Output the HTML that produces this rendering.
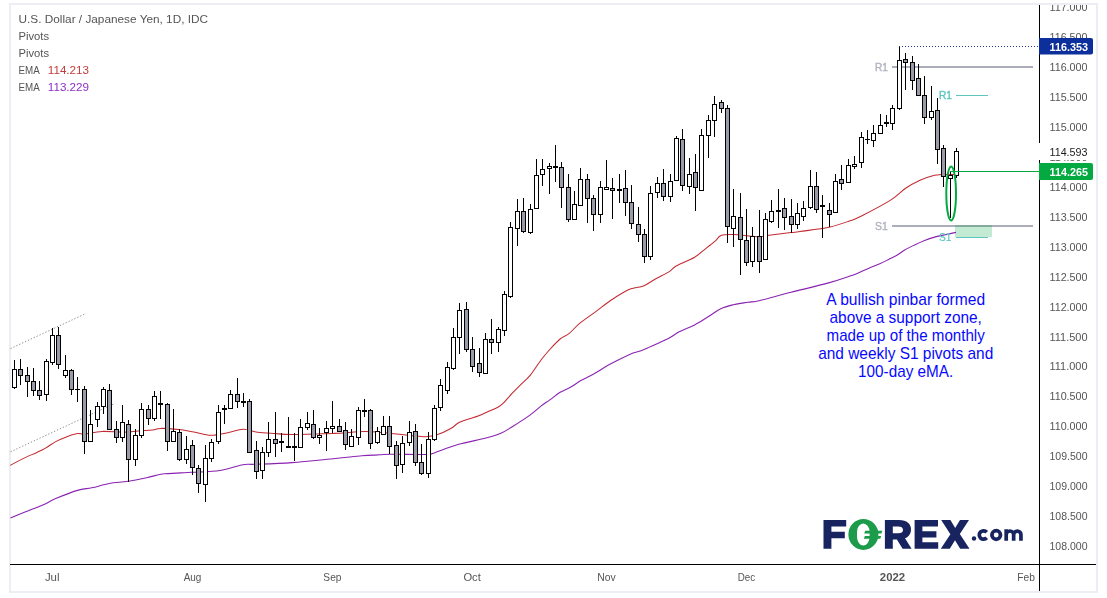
<!DOCTYPE html>
<html><head><meta charset="utf-8"><title>USDJPY</title>
<style>html,body{margin:0;padding:0;background:#fff;}body{position:relative;width:1107px;height:598px;overflow:hidden;font-family:"Liberation Sans",sans-serif;}</style>
</head><body>
<svg width="1107" height="598" viewBox="0 0 1107 598" style="display:block;will-change:transform;font-family:'Liberation Sans',sans-serif">
<rect width="1107" height="598" fill="#fff"/>
<g shape-rendering="crispEdges" fill="#edeef4">
<rect x="9" y="3" width="1089" height="2"/>
<rect x="9" y="3" width="2" height="590"/>
<rect x="1096" y="3" width="2" height="590"/>
<rect x="9" y="591" width="1089" height="2"/>
</g>
<g stroke="#8c8c8c" stroke-width="1" stroke-dasharray="1.3 1.9" fill="none">
<line x1="10.5" y1="348.6" x2="84.6" y2="314.1"/>
<line x1="10.5" y1="451.8" x2="114.5" y2="403.5"/>
</g>
<g shape-rendering="crispEdges">
<rect x="892" y="66" width="141" height="2" fill="#abadba"/>
<rect x="892" y="225" width="141" height="2" fill="#abadba"/>
<rect x="956" y="95" width="32" height="1" fill="#5ec5bf"/>
<rect x="956" y="237" width="32" height="1" fill="#5ec5bf"/>
</g>
<rect x="955" y="225" width="37" height="12" fill="#05a941" fill-opacity="0.24" shape-rendering="crispEdges"/>
<path d="M10.2,465.4 C12.2,464.3 18.1,461.1 22.5,458.9 C26.9,456.7 33.0,454.2 36.9,452.4 C40.8,450.6 42.5,449.9 45.6,448.1 C48.7,446.3 52.3,443.4 55.7,441.6 C59.1,439.8 62.2,438.5 65.8,437.2 C69.4,435.9 74.3,434.1 77.4,433.6 C80.5,433.1 80.5,434.4 84.6,434.0 C88.7,433.6 95.5,431.7 102.0,431.4 C108.5,431.1 117.6,432.3 123.6,432.2 C129.6,432.1 133.2,431.4 138.0,431.0 C142.8,430.6 148.8,430.4 152.5,430.0 C156.2,429.6 156.1,428.5 160.5,428.4 C164.9,428.3 173.1,428.9 178.8,429.5 C184.6,430.1 189.7,431.2 195.0,432.2 C200.3,433.2 205.1,435.2 210.6,435.3 C216.1,435.4 222.6,433.7 228.0,432.7 C233.4,431.7 238.1,429.3 243.0,429.2 C247.9,429.1 252.3,431.5 257.6,432.2 C262.9,432.9 269.3,433.2 275.0,433.6 C280.7,434.0 282.3,434.4 292.0,434.4 C301.7,434.4 324.5,433.6 333.0,433.4 C341.5,433.2 337.7,433.3 343.0,433.0 C348.3,432.7 357.0,431.4 365.0,431.5 C373.0,431.6 383.5,432.8 391.0,433.4 C398.5,434.0 404.2,434.8 410.0,435.4 C415.8,435.9 421.2,436.8 425.8,436.7 C430.4,436.6 433.4,436.0 437.6,434.6 C441.8,433.2 447.2,430.5 450.8,428.5 C454.4,426.5 456.0,424.1 459.0,422.5 C462.0,420.9 465.6,420.0 468.9,418.9 C472.2,417.8 475.5,417.1 478.8,415.8 C482.1,414.5 485.6,412.7 488.8,411.3 C492.0,409.9 495.2,408.8 497.8,407.3 C500.4,405.8 501.7,404.7 504.1,402.3 C506.5,399.9 509.4,396.2 512.3,393.2 C515.2,390.2 518.3,387.2 521.3,384.2 C524.3,381.2 527.0,379.3 530.3,375.2 C533.6,371.1 537.9,364.2 541.2,359.8 C544.5,355.4 547.1,352.5 550.2,349.0 C553.4,345.5 557.0,341.6 560.1,339.0 C563.2,336.4 565.7,336.2 569.0,333.6 C572.3,331.0 575.4,326.8 579.9,323.1 C584.4,319.4 591.0,315.2 596.1,311.4 C601.2,307.6 605.8,303.8 610.6,300.5 C615.4,297.2 621.4,293.5 625.0,291.5 C628.6,289.5 629.1,289.4 632.3,288.4 C635.5,287.4 640.1,287.3 644.0,285.7 C647.9,284.1 651.6,281.1 655.8,278.8 C660.0,276.5 665.8,273.8 669.3,271.6 C672.8,269.4 672.3,268.2 676.5,265.8 C680.7,263.4 689.6,260.1 694.6,257.2 C699.6,254.2 702.8,250.8 706.3,248.1 C709.8,245.4 712.9,243.0 715.4,240.9 C717.9,238.8 718.1,236.6 721.0,235.5 C723.9,234.4 726.7,234.3 733.0,234.5 C739.3,234.7 753.3,236.5 759.0,236.7 C764.7,236.9 761.7,236.2 767.0,235.5 C772.3,234.8 785.5,233.3 791.0,232.6 C796.5,231.9 793.7,232.4 800.0,231.5 C806.3,230.6 820.7,229.1 829.0,227.3 C837.3,225.5 844.5,222.7 850.0,220.8 C855.5,218.9 855.2,219.3 862.0,215.8 C868.8,212.3 883.7,204.5 891.0,199.9 C898.3,195.3 900.8,191.6 905.6,188.3 C910.4,185.0 915.2,182.5 920.0,180.3 C924.8,178.1 930.9,176.2 934.5,175.3 C938.1,174.4 938.1,174.8 941.7,174.6 C945.3,174.4 953.6,174.4 956.0,174.4" fill="none" stroke="#c32a31" stroke-width="1.05" stroke-linejoin="round"/>
<path d="M10.5,518.0 C11.3,517.7 12.0,517.3 15.2,516.0 C18.4,514.7 24.9,512.1 29.7,510.2 C34.5,508.3 39.8,506.3 44.1,504.4 C48.4,502.5 50.2,500.9 55.7,498.6 C61.2,496.3 71.4,492.2 77.4,490.4 C83.4,488.6 86.5,488.9 91.8,487.8 C97.1,486.7 103.2,484.6 109.2,483.5 C115.2,482.4 121.8,482.3 128.0,481.3 C134.2,480.3 141.4,478.8 146.7,477.7 C152.0,476.6 156.1,475.2 159.7,474.5 C163.2,473.8 162.6,474.0 168.0,473.6 C173.4,473.2 183.3,472.8 192.0,472.3 C200.7,471.8 211.5,471.8 220.0,470.5 C228.5,469.2 237.2,465.7 243.0,464.7 C248.8,463.7 246.5,464.6 254.7,464.3 C262.9,464.0 278.5,463.6 292.0,462.6 C305.5,461.6 323.9,459.6 335.6,458.5 C347.3,457.4 354.6,456.4 362.0,455.8 C369.4,455.2 375.2,455.1 380.0,454.8 C384.8,454.5 383.3,454.2 391.0,454.2 C398.7,454.1 418.9,454.7 426.0,454.5 C433.1,454.3 428.2,454.9 433.5,453.2 C438.8,451.5 449.2,447.0 458.0,444.5 C466.8,442.0 478.8,439.9 486.0,438.0 C493.2,436.1 497.0,434.9 501.4,433.0 C505.8,431.1 507.5,429.7 512.3,426.7 C517.1,423.7 525.5,418.4 530.3,414.9 C535.1,411.4 537.9,408.4 541.2,405.9 C544.5,403.3 547.1,401.9 550.2,399.6 C553.4,397.3 556.8,394.3 560.1,392.3 C563.4,390.3 566.5,389.4 570.0,387.5 C573.5,385.6 576.7,383.0 580.9,380.6 C585.1,378.2 590.6,375.7 595.4,373.0 C600.2,370.3 604.1,367.4 609.8,364.3 C615.5,361.2 624.7,356.6 629.7,354.4 C634.7,352.2 637.0,352.2 640.0,351.1 C643.0,350.0 642.9,350.1 647.6,348.0 C652.3,345.9 663.1,341.2 668.4,338.5 C673.7,335.8 674.8,334.1 679.2,331.8 C683.6,329.5 689.8,327.4 694.6,324.9 C699.4,322.4 703.7,319.5 708.1,316.8 C712.5,314.1 716.6,310.7 720.8,308.7 C725.0,306.7 728.9,305.8 733.4,304.7 C737.9,303.6 743.5,303.0 747.9,302.3 C752.3,301.6 752.8,302.2 760.0,300.5 C767.2,298.8 779.5,295.2 791.0,292.3 C802.5,289.4 818.9,285.6 828.7,282.9 C838.5,280.2 844.8,277.9 850.0,276.1 C855.2,274.3 856.6,273.6 859.9,272.2 C863.2,270.8 866.6,269.2 869.9,267.8 C873.2,266.4 876.5,265.3 879.8,263.8 C883.1,262.3 886.8,260.3 889.8,258.8 C892.8,257.3 895.2,256.3 897.7,254.8 C900.2,253.3 901.9,251.7 904.7,250.0 C907.5,248.3 911.3,246.5 914.6,244.9 C917.9,243.3 921.3,241.7 924.6,240.4 C927.9,239.1 931.2,238.0 934.5,237.1 C937.8,236.2 940.8,235.7 944.4,234.9 C948.0,234.1 954.1,232.8 956.0,232.4" fill="none" stroke="#8a22b2" stroke-width="1.1" stroke-linejoin="round"/>
<g font-size="10.5" stroke-width="0.4">
<text x="875" y="71" fill="#b1b3bf" stroke="#b1b3bf" textLength="13" lengthAdjust="spacingAndGlyphs">R1</text>
<text x="875" y="230" fill="#b1b3bf" stroke="#b1b3bf" textLength="12.8" lengthAdjust="spacingAndGlyphs">S1</text>
<text x="939" y="99.4" fill="#5ec5bf" stroke="#5ec5bf" textLength="13" lengthAdjust="spacingAndGlyphs">R1</text>
<text x="939" y="241" fill="#5ec5bf" stroke="#5ec5bf" stroke-width="0.2" textLength="12.4" lengthAdjust="spacingAndGlyphs">S1</text>
</g>
<g shape-rendering="crispEdges">
<rect x="14" y="360" width="1" height="29" fill="#000"/>
<rect x="12" y="369" width="5" height="19" fill="#000"/>
<rect x="13" y="370" width="3" height="17" fill="#fff"/>
<rect x="20" y="359" width="1" height="26" fill="#000"/>
<rect x="18" y="369" width="5" height="7" fill="#000"/>
<rect x="19" y="370" width="3" height="5" fill="#999ba8"/>
<rect x="27" y="367" width="1" height="30" fill="#000"/>
<rect x="25" y="375" width="5" height="7" fill="#000"/>
<rect x="26" y="376" width="3" height="5" fill="#999ba8"/>
<rect x="33" y="368" width="1" height="28" fill="#000"/>
<rect x="31" y="381" width="5" height="10" fill="#000"/>
<rect x="32" y="382" width="3" height="8" fill="#999ba8"/>
<rect x="39" y="381" width="1" height="19" fill="#000"/>
<rect x="37" y="390" width="5" height="6" fill="#000"/>
<rect x="38" y="391" width="3" height="4" fill="#999ba8"/>
<rect x="46" y="359" width="1" height="42" fill="#000"/>
<rect x="44" y="361" width="5" height="34" fill="#000"/>
<rect x="45" y="362" width="3" height="32" fill="#fff"/>
<rect x="52" y="328" width="1" height="37" fill="#000"/>
<rect x="50" y="335" width="5" height="28" fill="#000"/>
<rect x="51" y="336" width="3" height="26" fill="#fff"/>
<rect x="58" y="327" width="1" height="42" fill="#000"/>
<rect x="56" y="335" width="5" height="30" fill="#000"/>
<rect x="57" y="336" width="3" height="28" fill="#999ba8"/>
<rect x="65" y="355" width="1" height="23" fill="#000"/>
<rect x="63" y="370" width="5" height="6" fill="#000"/>
<rect x="64" y="371" width="3" height="4" fill="#fff"/>
<rect x="71" y="369" width="1" height="26" fill="#000"/>
<rect x="69" y="370" width="5" height="20" fill="#000"/>
<rect x="70" y="371" width="3" height="18" fill="#999ba8"/>
<rect x="77" y="377" width="1" height="25" fill="#000"/>
<rect x="75" y="389" width="5" height="1" fill="#000"/>
<rect x="84" y="386" width="1" height="68" fill="#000"/>
<rect x="82" y="389" width="5" height="53" fill="#000"/>
<rect x="83" y="390" width="3" height="51" fill="#999ba8"/>
<rect x="90" y="410" width="1" height="32" fill="#000"/>
<rect x="88" y="424" width="5" height="18" fill="#000"/>
<rect x="89" y="425" width="3" height="16" fill="#fff"/>
<rect x="97" y="402" width="1" height="25" fill="#000"/>
<rect x="95" y="406" width="5" height="14" fill="#000"/>
<rect x="96" y="407" width="3" height="12" fill="#fff"/>
<rect x="103" y="387" width="1" height="27" fill="#000"/>
<rect x="101" y="389" width="5" height="18" fill="#000"/>
<rect x="102" y="390" width="3" height="16" fill="#fff"/>
<rect x="109" y="384" width="1" height="46" fill="#000"/>
<rect x="107" y="390" width="5" height="40" fill="#000"/>
<rect x="108" y="391" width="3" height="38" fill="#999ba8"/>
<rect x="116" y="421" width="1" height="22" fill="#000"/>
<rect x="114" y="429" width="5" height="9" fill="#000"/>
<rect x="115" y="430" width="3" height="7" fill="#999ba8"/>
<rect x="122" y="405" width="1" height="37" fill="#000"/>
<rect x="120" y="422" width="5" height="16" fill="#000"/>
<rect x="121" y="423" width="3" height="14" fill="#fff"/>
<rect x="128" y="420" width="1" height="62" fill="#000"/>
<rect x="126" y="424" width="5" height="36" fill="#000"/>
<rect x="127" y="425" width="3" height="34" fill="#999ba8"/>
<rect x="135" y="429" width="1" height="37" fill="#000"/>
<rect x="133" y="435" width="5" height="25" fill="#000"/>
<rect x="134" y="436" width="3" height="23" fill="#fff"/>
<rect x="141" y="403" width="1" height="35" fill="#000"/>
<rect x="139" y="409" width="5" height="27" fill="#000"/>
<rect x="140" y="410" width="3" height="25" fill="#fff"/>
<rect x="148" y="405" width="1" height="20" fill="#000"/>
<rect x="146" y="409" width="5" height="10" fill="#000"/>
<rect x="147" y="410" width="3" height="8" fill="#999ba8"/>
<rect x="154" y="391" width="1" height="30" fill="#000"/>
<rect x="152" y="396" width="5" height="23" fill="#000"/>
<rect x="153" y="397" width="3" height="21" fill="#fff"/>
<rect x="160" y="391" width="1" height="28" fill="#000"/>
<rect x="158" y="403" width="5" height="2" fill="#000"/>
<rect x="167" y="403" width="1" height="48" fill="#000"/>
<rect x="165" y="404" width="5" height="38" fill="#000"/>
<rect x="166" y="405" width="3" height="36" fill="#999ba8"/>
<rect x="173" y="409" width="1" height="33" fill="#000"/>
<rect x="171" y="431" width="5" height="11" fill="#000"/>
<rect x="172" y="432" width="3" height="9" fill="#fff"/>
<rect x="179" y="429" width="1" height="32" fill="#000"/>
<rect x="177" y="432" width="5" height="28" fill="#000"/>
<rect x="178" y="433" width="3" height="26" fill="#999ba8"/>
<rect x="186" y="436" width="1" height="28" fill="#000"/>
<rect x="184" y="449" width="5" height="11" fill="#000"/>
<rect x="185" y="450" width="3" height="9" fill="#fff"/>
<rect x="192" y="440" width="1" height="35" fill="#000"/>
<rect x="190" y="445" width="5" height="23" fill="#000"/>
<rect x="191" y="446" width="3" height="21" fill="#999ba8"/>
<rect x="198" y="465" width="1" height="28" fill="#000"/>
<rect x="196" y="468" width="5" height="16" fill="#000"/>
<rect x="197" y="469" width="3" height="14" fill="#999ba8"/>
<rect x="205" y="445" width="1" height="57" fill="#000"/>
<rect x="203" y="458" width="5" height="27" fill="#000"/>
<rect x="204" y="459" width="3" height="25" fill="#fff"/>
<rect x="211" y="439" width="1" height="23" fill="#000"/>
<rect x="209" y="442" width="5" height="17" fill="#000"/>
<rect x="210" y="443" width="3" height="15" fill="#fff"/>
<rect x="218" y="405" width="1" height="39" fill="#000"/>
<rect x="216" y="412" width="5" height="30" fill="#000"/>
<rect x="217" y="413" width="3" height="28" fill="#fff"/>
<rect x="224" y="405" width="1" height="19" fill="#000"/>
<rect x="222" y="408" width="5" height="2" fill="#000"/>
<rect x="230" y="390" width="1" height="19" fill="#000"/>
<rect x="228" y="394" width="5" height="15" fill="#000"/>
<rect x="229" y="395" width="3" height="13" fill="#fff"/>
<rect x="237" y="378" width="1" height="30" fill="#000"/>
<rect x="235" y="394" width="5" height="8" fill="#000"/>
<rect x="236" y="395" width="3" height="6" fill="#999ba8"/>
<rect x="243" y="393" width="1" height="14" fill="#000"/>
<rect x="241" y="401" width="5" height="2" fill="#000"/>
<rect x="249" y="399" width="1" height="54" fill="#000"/>
<rect x="247" y="401" width="5" height="52" fill="#000"/>
<rect x="248" y="402" width="3" height="50" fill="#999ba8"/>
<rect x="256" y="441" width="1" height="38" fill="#000"/>
<rect x="254" y="450" width="5" height="22" fill="#000"/>
<rect x="255" y="451" width="3" height="20" fill="#999ba8"/>
<rect x="262" y="447" width="1" height="32" fill="#000"/>
<rect x="260" y="452" width="5" height="19" fill="#000"/>
<rect x="261" y="453" width="3" height="17" fill="#fff"/>
<rect x="268" y="422" width="1" height="35" fill="#000"/>
<rect x="266" y="439" width="5" height="14" fill="#000"/>
<rect x="267" y="440" width="3" height="12" fill="#fff"/>
<rect x="275" y="412" width="1" height="45" fill="#000"/>
<rect x="273" y="439" width="5" height="5" fill="#000"/>
<rect x="274" y="440" width="3" height="3" fill="#999ba8"/>
<rect x="281" y="433" width="1" height="19" fill="#000"/>
<rect x="279" y="441" width="5" height="2" fill="#000"/>
<rect x="288" y="417" width="1" height="31" fill="#000"/>
<rect x="286" y="446" width="5" height="2" fill="#000"/>
<rect x="294" y="433" width="1" height="28" fill="#000"/>
<rect x="292" y="446" width="5" height="2" fill="#000"/>
<rect x="300" y="419" width="1" height="29" fill="#000"/>
<rect x="298" y="427" width="5" height="21" fill="#000"/>
<rect x="299" y="428" width="3" height="19" fill="#fff"/>
<rect x="307" y="412" width="1" height="18" fill="#000"/>
<rect x="305" y="423" width="5" height="5" fill="#000"/>
<rect x="306" y="424" width="3" height="3" fill="#fff"/>
<rect x="313" y="410" width="1" height="29" fill="#000"/>
<rect x="311" y="424" width="5" height="14" fill="#000"/>
<rect x="312" y="425" width="3" height="12" fill="#999ba8"/>
<rect x="319" y="428" width="1" height="16" fill="#000"/>
<rect x="317" y="435" width="5" height="3" fill="#000"/>
<rect x="318" y="436" width="3" height="1" fill="#fff"/>
<rect x="326" y="421" width="1" height="30" fill="#000"/>
<rect x="324" y="428" width="5" height="5" fill="#000"/>
<rect x="325" y="429" width="3" height="3" fill="#fff"/>
<rect x="332" y="401" width="1" height="32" fill="#000"/>
<rect x="330" y="426" width="5" height="3" fill="#000"/>
<rect x="331" y="427" width="3" height="1" fill="#fff"/>
<rect x="339" y="419" width="1" height="13" fill="#000"/>
<rect x="337" y="426" width="5" height="6" fill="#000"/>
<rect x="338" y="427" width="3" height="4" fill="#999ba8"/>
<rect x="345" y="422" width="1" height="28" fill="#000"/>
<rect x="343" y="430" width="5" height="15" fill="#000"/>
<rect x="344" y="431" width="3" height="13" fill="#999ba8"/>
<rect x="351" y="429" width="1" height="18" fill="#000"/>
<rect x="349" y="436" width="5" height="11" fill="#000"/>
<rect x="350" y="437" width="3" height="9" fill="#fff"/>
<rect x="358" y="407" width="1" height="38" fill="#000"/>
<rect x="356" y="410" width="5" height="28" fill="#000"/>
<rect x="357" y="411" width="3" height="26" fill="#fff"/>
<rect x="364" y="399" width="1" height="18" fill="#000"/>
<rect x="362" y="410" width="5" height="2" fill="#000"/>
<rect x="370" y="409" width="1" height="40" fill="#000"/>
<rect x="368" y="410" width="5" height="34" fill="#000"/>
<rect x="369" y="411" width="3" height="32" fill="#999ba8"/>
<rect x="377" y="427" width="1" height="17" fill="#000"/>
<rect x="375" y="431" width="5" height="12" fill="#000"/>
<rect x="376" y="432" width="3" height="10" fill="#fff"/>
<rect x="383" y="416" width="1" height="19" fill="#000"/>
<rect x="381" y="426" width="5" height="9" fill="#000"/>
<rect x="382" y="427" width="3" height="7" fill="#fff"/>
<rect x="389" y="416" width="1" height="38" fill="#000"/>
<rect x="387" y="426" width="5" height="21" fill="#000"/>
<rect x="388" y="427" width="3" height="19" fill="#999ba8"/>
<rect x="396" y="441" width="1" height="38" fill="#000"/>
<rect x="394" y="445" width="5" height="21" fill="#000"/>
<rect x="395" y="446" width="3" height="19" fill="#999ba8"/>
<rect x="402" y="436" width="1" height="37" fill="#000"/>
<rect x="400" y="443" width="5" height="22" fill="#000"/>
<rect x="401" y="444" width="3" height="20" fill="#fff"/>
<rect x="409" y="421" width="1" height="25" fill="#000"/>
<rect x="407" y="432" width="5" height="11" fill="#000"/>
<rect x="408" y="433" width="3" height="9" fill="#fff"/>
<rect x="415" y="424" width="1" height="42" fill="#000"/>
<rect x="413" y="431" width="5" height="32" fill="#000"/>
<rect x="414" y="432" width="3" height="30" fill="#999ba8"/>
<rect x="421" y="444" width="1" height="31" fill="#000"/>
<rect x="419" y="462" width="5" height="12" fill="#000"/>
<rect x="420" y="463" width="3" height="10" fill="#999ba8"/>
<rect x="428" y="432" width="1" height="46" fill="#000"/>
<rect x="426" y="439" width="5" height="35" fill="#000"/>
<rect x="427" y="440" width="3" height="33" fill="#fff"/>
<rect x="434" y="405" width="1" height="36" fill="#000"/>
<rect x="432" y="408" width="5" height="32" fill="#000"/>
<rect x="433" y="409" width="3" height="30" fill="#fff"/>
<rect x="440" y="379" width="1" height="32" fill="#000"/>
<rect x="438" y="385" width="5" height="23" fill="#000"/>
<rect x="439" y="386" width="3" height="21" fill="#fff"/>
<rect x="447" y="362" width="1" height="32" fill="#000"/>
<rect x="445" y="367" width="5" height="24" fill="#000"/>
<rect x="446" y="368" width="3" height="22" fill="#fff"/>
<rect x="453" y="328" width="1" height="42" fill="#000"/>
<rect x="451" y="337" width="5" height="32" fill="#000"/>
<rect x="452" y="338" width="3" height="30" fill="#fff"/>
<rect x="459" y="303" width="1" height="51" fill="#000"/>
<rect x="457" y="310" width="5" height="28" fill="#000"/>
<rect x="458" y="311" width="3" height="26" fill="#fff"/>
<rect x="466" y="302" width="1" height="50" fill="#000"/>
<rect x="464" y="309" width="5" height="41" fill="#000"/>
<rect x="465" y="310" width="3" height="39" fill="#999ba8"/>
<rect x="472" y="337" width="1" height="35" fill="#000"/>
<rect x="470" y="349" width="5" height="18" fill="#000"/>
<rect x="471" y="350" width="3" height="16" fill="#999ba8"/>
<rect x="479" y="348" width="1" height="29" fill="#000"/>
<rect x="477" y="363" width="5" height="10" fill="#000"/>
<rect x="478" y="364" width="3" height="8" fill="#999ba8"/>
<rect x="485" y="333" width="1" height="41" fill="#000"/>
<rect x="483" y="339" width="5" height="35" fill="#000"/>
<rect x="484" y="340" width="3" height="33" fill="#fff"/>
<rect x="491" y="319" width="1" height="35" fill="#000"/>
<rect x="489" y="339" width="5" height="4" fill="#000"/>
<rect x="490" y="340" width="3" height="2" fill="#999ba8"/>
<rect x="498" y="327" width="1" height="25" fill="#000"/>
<rect x="496" y="329" width="5" height="14" fill="#000"/>
<rect x="497" y="330" width="3" height="12" fill="#fff"/>
<rect x="504" y="291" width="1" height="45" fill="#000"/>
<rect x="502" y="294" width="5" height="37" fill="#000"/>
<rect x="503" y="295" width="3" height="35" fill="#fff"/>
<rect x="510" y="222" width="1" height="76" fill="#000"/>
<rect x="508" y="227" width="5" height="70" fill="#000"/>
<rect x="509" y="228" width="3" height="68" fill="#fff"/>
<rect x="517" y="199" width="1" height="47" fill="#000"/>
<rect x="515" y="211" width="5" height="18" fill="#000"/>
<rect x="516" y="212" width="3" height="16" fill="#fff"/>
<rect x="523" y="198" width="1" height="35" fill="#000"/>
<rect x="521" y="211" width="5" height="21" fill="#000"/>
<rect x="522" y="212" width="3" height="19" fill="#999ba8"/>
<rect x="530" y="204" width="1" height="30" fill="#000"/>
<rect x="528" y="209" width="5" height="24" fill="#000"/>
<rect x="529" y="210" width="3" height="22" fill="#fff"/>
<rect x="536" y="159" width="1" height="50" fill="#000"/>
<rect x="534" y="175" width="5" height="34" fill="#000"/>
<rect x="535" y="176" width="3" height="32" fill="#fff"/>
<rect x="542" y="159" width="1" height="27" fill="#000"/>
<rect x="540" y="169" width="5" height="6" fill="#000"/>
<rect x="541" y="170" width="3" height="4" fill="#fff"/>
<rect x="549" y="163" width="1" height="31" fill="#000"/>
<rect x="547" y="166" width="5" height="3" fill="#000"/>
<rect x="548" y="167" width="3" height="1" fill="#fff"/>
<rect x="555" y="145" width="1" height="37" fill="#000"/>
<rect x="553" y="166" width="5" height="2" fill="#000"/>
<rect x="561" y="162" width="1" height="46" fill="#000"/>
<rect x="559" y="167" width="5" height="21" fill="#000"/>
<rect x="560" y="168" width="3" height="19" fill="#999ba8"/>
<rect x="568" y="174" width="1" height="48" fill="#000"/>
<rect x="566" y="187" width="5" height="33" fill="#000"/>
<rect x="567" y="188" width="3" height="31" fill="#999ba8"/>
<rect x="574" y="191" width="1" height="29" fill="#000"/>
<rect x="572" y="204" width="5" height="16" fill="#000"/>
<rect x="573" y="205" width="3" height="14" fill="#fff"/>
<rect x="580" y="168" width="1" height="38" fill="#000"/>
<rect x="578" y="179" width="5" height="27" fill="#000"/>
<rect x="579" y="180" width="3" height="25" fill="#fff"/>
<rect x="587" y="174" width="1" height="49" fill="#000"/>
<rect x="585" y="179" width="5" height="20" fill="#000"/>
<rect x="586" y="180" width="3" height="18" fill="#999ba8"/>
<rect x="593" y="195" width="1" height="36" fill="#000"/>
<rect x="591" y="198" width="5" height="17" fill="#000"/>
<rect x="592" y="199" width="3" height="15" fill="#999ba8"/>
<rect x="600" y="181" width="1" height="42" fill="#000"/>
<rect x="598" y="187" width="5" height="28" fill="#000"/>
<rect x="599" y="188" width="3" height="26" fill="#fff"/>
<rect x="606" y="160" width="1" height="30" fill="#000"/>
<rect x="604" y="187" width="5" height="3" fill="#000"/>
<rect x="605" y="188" width="3" height="1" fill="#fff"/>
<rect x="612" y="178" width="1" height="41" fill="#000"/>
<rect x="610" y="188" width="5" height="3" fill="#000"/>
<rect x="611" y="189" width="3" height="1" fill="#999ba8"/>
<rect x="619" y="174" width="1" height="29" fill="#000"/>
<rect x="617" y="189" width="5" height="2" fill="#000"/>
<rect x="625" y="170" width="1" height="46" fill="#000"/>
<rect x="623" y="188" width="5" height="15" fill="#000"/>
<rect x="624" y="189" width="3" height="13" fill="#999ba8"/>
<rect x="631" y="185" width="1" height="44" fill="#000"/>
<rect x="629" y="202" width="5" height="22" fill="#000"/>
<rect x="630" y="203" width="3" height="20" fill="#999ba8"/>
<rect x="638" y="207" width="1" height="35" fill="#000"/>
<rect x="636" y="224" width="5" height="11" fill="#000"/>
<rect x="637" y="225" width="3" height="9" fill="#999ba8"/>
<rect x="644" y="229" width="1" height="34" fill="#000"/>
<rect x="642" y="234" width="5" height="23" fill="#000"/>
<rect x="643" y="235" width="3" height="21" fill="#999ba8"/>
<rect x="650" y="186" width="1" height="74" fill="#000"/>
<rect x="648" y="193" width="5" height="64" fill="#000"/>
<rect x="649" y="194" width="3" height="62" fill="#fff"/>
<rect x="657" y="177" width="1" height="21" fill="#000"/>
<rect x="655" y="183" width="5" height="10" fill="#000"/>
<rect x="656" y="184" width="3" height="8" fill="#fff"/>
<rect x="663" y="169" width="1" height="32" fill="#000"/>
<rect x="661" y="183" width="5" height="14" fill="#000"/>
<rect x="662" y="184" width="3" height="12" fill="#999ba8"/>
<rect x="670" y="174" width="1" height="28" fill="#000"/>
<rect x="668" y="181" width="5" height="16" fill="#000"/>
<rect x="669" y="182" width="3" height="14" fill="#fff"/>
<rect x="676" y="136" width="1" height="45" fill="#000"/>
<rect x="674" y="138" width="5" height="43" fill="#000"/>
<rect x="675" y="139" width="3" height="41" fill="#fff"/>
<rect x="682" y="129" width="1" height="62" fill="#000"/>
<rect x="680" y="139" width="5" height="47" fill="#000"/>
<rect x="681" y="140" width="3" height="45" fill="#999ba8"/>
<rect x="689" y="158" width="1" height="36" fill="#000"/>
<rect x="687" y="174" width="5" height="13" fill="#000"/>
<rect x="688" y="175" width="3" height="11" fill="#fff"/>
<rect x="695" y="154" width="1" height="57" fill="#000"/>
<rect x="693" y="172" width="5" height="16" fill="#000"/>
<rect x="694" y="173" width="3" height="14" fill="#999ba8"/>
<rect x="701" y="129" width="1" height="62" fill="#000"/>
<rect x="699" y="135" width="5" height="56" fill="#000"/>
<rect x="700" y="136" width="3" height="54" fill="#fff"/>
<rect x="708" y="115" width="1" height="43" fill="#000"/>
<rect x="706" y="120" width="5" height="16" fill="#000"/>
<rect x="707" y="121" width="3" height="14" fill="#fff"/>
<rect x="714" y="96" width="1" height="41" fill="#000"/>
<rect x="712" y="104" width="5" height="17" fill="#000"/>
<rect x="713" y="105" width="3" height="15" fill="#fff"/>
<rect x="721" y="100" width="1" height="13" fill="#000"/>
<rect x="719" y="102" width="5" height="7" fill="#000"/>
<rect x="720" y="103" width="3" height="5" fill="#999ba8"/>
<rect x="727" y="105" width="1" height="138" fill="#000"/>
<rect x="725" y="108" width="5" height="119" fill="#000"/>
<rect x="726" y="109" width="3" height="117" fill="#999ba8"/>
<rect x="733" y="189" width="1" height="58" fill="#000"/>
<rect x="731" y="216" width="5" height="13" fill="#000"/>
<rect x="732" y="217" width="3" height="11" fill="#fff"/>
<rect x="740" y="193" width="1" height="82" fill="#000"/>
<rect x="738" y="217" width="5" height="23" fill="#000"/>
<rect x="739" y="218" width="3" height="21" fill="#999ba8"/>
<rect x="746" y="209" width="1" height="57" fill="#000"/>
<rect x="744" y="240" width="5" height="23" fill="#000"/>
<rect x="745" y="241" width="3" height="21" fill="#999ba8"/>
<rect x="752" y="227" width="1" height="40" fill="#000"/>
<rect x="750" y="236" width="5" height="26" fill="#000"/>
<rect x="751" y="237" width="3" height="24" fill="#fff"/>
<rect x="759" y="210" width="1" height="63" fill="#000"/>
<rect x="757" y="236" width="5" height="26" fill="#000"/>
<rect x="758" y="237" width="3" height="24" fill="#999ba8"/>
<rect x="765" y="213" width="1" height="47" fill="#000"/>
<rect x="763" y="219" width="5" height="41" fill="#000"/>
<rect x="764" y="220" width="3" height="39" fill="#fff"/>
<rect x="771" y="200" width="1" height="23" fill="#000"/>
<rect x="769" y="211" width="5" height="11" fill="#000"/>
<rect x="770" y="212" width="3" height="9" fill="#fff"/>
<rect x="778" y="189" width="1" height="39" fill="#000"/>
<rect x="776" y="210" width="5" height="2" fill="#000"/>
<rect x="784" y="198" width="1" height="32" fill="#000"/>
<rect x="782" y="208" width="5" height="10" fill="#000"/>
<rect x="783" y="209" width="3" height="8" fill="#999ba8"/>
<rect x="791" y="199" width="1" height="34" fill="#000"/>
<rect x="789" y="216" width="5" height="9" fill="#000"/>
<rect x="790" y="217" width="3" height="7" fill="#999ba8"/>
<rect x="797" y="203" width="1" height="26" fill="#000"/>
<rect x="795" y="213" width="5" height="12" fill="#000"/>
<rect x="796" y="214" width="3" height="10" fill="#fff"/>
<rect x="803" y="201" width="1" height="20" fill="#000"/>
<rect x="801" y="208" width="5" height="9" fill="#000"/>
<rect x="802" y="209" width="3" height="7" fill="#fff"/>
<rect x="810" y="170" width="1" height="39" fill="#000"/>
<rect x="808" y="186" width="5" height="22" fill="#000"/>
<rect x="809" y="187" width="3" height="20" fill="#fff"/>
<rect x="816" y="172" width="1" height="41" fill="#000"/>
<rect x="814" y="186" width="5" height="24" fill="#000"/>
<rect x="815" y="187" width="3" height="22" fill="#999ba8"/>
<rect x="822" y="195" width="1" height="43" fill="#000"/>
<rect x="820" y="205" width="5" height="2" fill="#000"/>
<rect x="829" y="203" width="1" height="24" fill="#000"/>
<rect x="827" y="210" width="5" height="5" fill="#000"/>
<rect x="828" y="211" width="3" height="3" fill="#999ba8"/>
<rect x="835" y="174" width="1" height="39" fill="#000"/>
<rect x="833" y="181" width="5" height="32" fill="#000"/>
<rect x="834" y="182" width="3" height="30" fill="#fff"/>
<rect x="841" y="165" width="1" height="25" fill="#000"/>
<rect x="839" y="179" width="5" height="5" fill="#000"/>
<rect x="840" y="180" width="3" height="3" fill="#999ba8"/>
<rect x="848" y="159" width="1" height="24" fill="#000"/>
<rect x="846" y="165" width="5" height="18" fill="#000"/>
<rect x="847" y="166" width="3" height="16" fill="#fff"/>
<rect x="854" y="156" width="1" height="13" fill="#000"/>
<rect x="852" y="164" width="5" height="3" fill="#000"/>
<rect x="853" y="165" width="3" height="1" fill="#fff"/>
<rect x="861" y="132" width="1" height="36" fill="#000"/>
<rect x="859" y="137" width="5" height="26" fill="#000"/>
<rect x="860" y="138" width="3" height="24" fill="#fff"/>
<rect x="867" y="130" width="1" height="14" fill="#000"/>
<rect x="865" y="139" width="5" height="1" fill="#000"/>
<rect x="873" y="125" width="1" height="22" fill="#000"/>
<rect x="871" y="133" width="5" height="8" fill="#000"/>
<rect x="872" y="134" width="3" height="6" fill="#fff"/>
<rect x="880" y="114" width="1" height="20" fill="#000"/>
<rect x="878" y="125" width="5" height="9" fill="#000"/>
<rect x="879" y="126" width="3" height="7" fill="#fff"/>
<rect x="886" y="115" width="1" height="12" fill="#000"/>
<rect x="884" y="122" width="5" height="2" fill="#000"/>
<rect x="892" y="105" width="1" height="25" fill="#000"/>
<rect x="890" y="108" width="5" height="16" fill="#000"/>
<rect x="891" y="109" width="3" height="14" fill="#fff"/>
<rect x="899" y="46" width="1" height="64" fill="#000"/>
<rect x="897" y="60" width="5" height="49" fill="#000"/>
<rect x="898" y="61" width="3" height="47" fill="#fff"/>
<rect x="905" y="53" width="1" height="37" fill="#000"/>
<rect x="903" y="59" width="5" height="4" fill="#000"/>
<rect x="904" y="60" width="3" height="2" fill="#999ba8"/>
<rect x="912" y="56" width="1" height="34" fill="#000"/>
<rect x="910" y="62" width="5" height="19" fill="#000"/>
<rect x="911" y="63" width="3" height="17" fill="#999ba8"/>
<rect x="918" y="64" width="1" height="32" fill="#000"/>
<rect x="916" y="78" width="5" height="18" fill="#000"/>
<rect x="917" y="79" width="3" height="16" fill="#999ba8"/>
<rect x="924" y="76" width="1" height="48" fill="#000"/>
<rect x="922" y="95" width="5" height="23" fill="#000"/>
<rect x="923" y="96" width="3" height="21" fill="#999ba8"/>
<rect x="931" y="86" width="1" height="34" fill="#000"/>
<rect x="929" y="111" width="5" height="7" fill="#000"/>
<rect x="930" y="112" width="3" height="5" fill="#fff"/>
<rect x="937" y="98" width="1" height="66" fill="#000"/>
<rect x="935" y="110" width="5" height="40" fill="#000"/>
<rect x="936" y="111" width="3" height="38" fill="#999ba8"/>
<rect x="943" y="145" width="1" height="42" fill="#000"/>
<rect x="941" y="148" width="5" height="29" fill="#000"/>
<rect x="942" y="149" width="3" height="27" fill="#999ba8"/>
<rect x="950" y="171" width="1" height="47" fill="#000"/>
<rect x="948" y="175" width="5" height="4" fill="#000"/>
<rect x="949" y="176" width="3" height="2" fill="#fff"/>
<rect x="956" y="148" width="1" height="30" fill="#000"/>
<rect x="954" y="151" width="5" height="25" fill="#000"/>
<rect x="955" y="152" width="3" height="23" fill="#fff"/>
</g>
<line x1="899" y1="46.5" x2="1039" y2="46.5" stroke="#1a3799" stroke-width="1" stroke-dasharray="1 2" shape-rendering="crispEdges"/>
<rect x="950" y="171" width="89" height="1" fill="#05a941" shape-rendering="crispEdges"/>
<ellipse cx="951.15" cy="193.4" rx="4.85" ry="27" fill="none" stroke="#05a941" stroke-width="2"/>
<g shape-rendering="crispEdges" fill="#000">
<rect x="1039" y="5" width="1" height="586"/>
<rect x="10" y="564" width="1086" height="1"/>
</g>
<g font-size="10.6" fill="#555" >
<text x="1049.5" y="11.4" textLength="38" lengthAdjust="spacingAndGlyphs">117.000</text>
<text x="1049.5" y="41.3" textLength="38" lengthAdjust="spacingAndGlyphs">116.500</text>
<text x="1049.5" y="71.3" textLength="38" lengthAdjust="spacingAndGlyphs">116.000</text>
<text x="1049.5" y="101.2" textLength="38" lengthAdjust="spacingAndGlyphs">115.500</text>
<text x="1049.5" y="131.1" textLength="38" lengthAdjust="spacingAndGlyphs">115.000</text>
<text x="1049.5" y="161.0" textLength="38" lengthAdjust="spacingAndGlyphs">114.500</text>
<text x="1049.5" y="190.9" textLength="38" lengthAdjust="spacingAndGlyphs">114.000</text>
<text x="1049.5" y="220.8" textLength="38" lengthAdjust="spacingAndGlyphs">113.500</text>
<text x="1049.5" y="250.8" textLength="38" lengthAdjust="spacingAndGlyphs">113.000</text>
<text x="1049.5" y="280.7" textLength="38" lengthAdjust="spacingAndGlyphs">112.500</text>
<text x="1049.5" y="310.6" textLength="38" lengthAdjust="spacingAndGlyphs">112.000</text>
<text x="1049.5" y="340.5" textLength="38" lengthAdjust="spacingAndGlyphs">111.500</text>
<text x="1049.5" y="370.4" textLength="38" lengthAdjust="spacingAndGlyphs">111.000</text>
<text x="1049.5" y="400.3" textLength="38" lengthAdjust="spacingAndGlyphs">110.500</text>
<text x="1049.5" y="430.2" textLength="38" lengthAdjust="spacingAndGlyphs">110.000</text>
<text x="1049.5" y="460.2" textLength="38" lengthAdjust="spacingAndGlyphs">109.500</text>
<text x="1049.5" y="490.1" textLength="38" lengthAdjust="spacingAndGlyphs">109.000</text>
<text x="1049.5" y="520.0" textLength="38" lengthAdjust="spacingAndGlyphs">108.500</text>
<text x="1049.5" y="549.9" textLength="38" lengthAdjust="spacingAndGlyphs">108.000</text>
</g>
<rect x="1039" y="143" width="54" height="17" fill="#fff" shape-rendering="crispEdges"/>
<text  x="1049.5" y="156.4" font-size="10.6" fill="#1c1c1c" textLength="38" lengthAdjust="spacingAndGlyphs">114.593</text>
<path d="M1039,38 H1091 Q1093,38 1093,40 V52.4 Q1093,54.4 1091,54.4 H1039 Z" fill="#0c2f9b"/>
<text x="1049.5" y="51" font-size="10.6" font-weight="bold" fill="#fff" textLength="38.5" lengthAdjust="spacingAndGlyphs">116.353</text>
<path d="M1039,163 H1091 Q1093,163 1093,165 V178 Q1093,180 1091,180 H1039 Z" fill="#05a941"/>
<text x="1049.5" y="176.1" font-size="10.6" font-weight="bold" fill="#fff" textLength="38.5" lengthAdjust="spacingAndGlyphs">114.265</text>
<rect x="1040" y="0" width="56" height="3" fill="#fff"/><rect x="1040" y="3" width="56" height="2" fill="#edeef4" shape-rendering="crispEdges"/>
<g font-size="10.6" fill="#555" text-anchor="middle" >
<text x="52.2" y="581.2" textLength="14.6" lengthAdjust="spacingAndGlyphs">Jul</text>
<text x="192.5" y="581.2" textLength="17.7" lengthAdjust="spacingAndGlyphs">Aug</text>
<text x="332.4" y="581.2" textLength="18.1" lengthAdjust="spacingAndGlyphs">Sep</text>
<text x="472.1" y="581.2" textLength="17.4" lengthAdjust="spacingAndGlyphs">Oct</text>
<text x="606.4" y="581.2" textLength="18.4" lengthAdjust="spacingAndGlyphs">Nov</text>
<text x="746.4" y="581.2" textLength="17.4" lengthAdjust="spacingAndGlyphs">Dec</text>
<text x="1026.1" y="581.2" textLength="17.6" lengthAdjust="spacingAndGlyphs">Feb</text>
<text x="892.5" y="581.2" font-weight="bold" textLength="25.3" lengthAdjust="spacingAndGlyphs">2022</text>
</g>
<g font-size="11.3" fill="#555" >
<text x="18.5" y="22.8" textLength="189.6" lengthAdjust="spacingAndGlyphs">U.S. Dollar / Japanese Yen, 1D, IDC</text>
<text x="18.5" y="39.6" textLength="30.6" lengthAdjust="spacingAndGlyphs">Pivots</text>
<text x="18.5" y="56.5" textLength="30.6" lengthAdjust="spacingAndGlyphs">Pivots</text>
<text x="18.5" y="73.5" textLength="21.2" lengthAdjust="spacingAndGlyphs">EMA</text>
<text x="18.5" y="90.5" textLength="21.2" lengthAdjust="spacingAndGlyphs">EMA</text>
<text x="47.8" y="73.5" fill="#c23b3b" textLength="41.2" lengthAdjust="spacingAndGlyphs">114.213</text>
<text x="47.8" y="90.5" fill="#8a2fc4" textLength="41.2" lengthAdjust="spacingAndGlyphs">113.229</text>
</g>
<g fill="#17245f">
<path d="M823.5,520 H846.2 V526.6 H831.4 V531.7 H844.8 V538.3 H831.4 V548.8 H823.5 Z"/>
<path d="M884.9,520 H899 C907,520 911,524 911,529.6 C911,534 908.6,537 905,538.3 L911.6,548.8 H902.6 L896.9,539.6 H892.8 V548.8 H884.9 Z M892.8,526.6 V533.2 H898.3 C901.2,533.2 903,532 903,529.9 C903,527.8 901.2,526.6 898.3,526.6 Z" fill-rule="evenodd"/>
<path d="M914.6,520 H938 V526.5 H922.4 V531.2 H936.4 V537.4 H922.4 V542.3 H938.2 V548.8 H914.6 Z"/>
<path d="M941.2,520 H950.4 L955.2,528 L960,520 H969 L959.8,534.1 L969.5,548.8 H960.2 L955,540.3 L949.8,548.8 H940.8 L950.4,534.2 Z"/>
</g>
<ellipse cx="863.4" cy="534.4" rx="15" ry="15.5" fill="#1c9c4b"/>
<rect x="857" y="523.4" width="12.6" height="22" rx="6.3" ry="8.6" fill="#fff"/>
<path d="M865.2,530.7 H882.4 L881.4,533.5 H864.2 Z M864.8,536 H881.2 L880.2,538.8 H863.8 Z" fill="#1c9c4b"/>
<circle cx="974" cy="538.55" r="2.2" fill="#17245f"/>
<g fill="none" stroke="#17245f" stroke-width="3.7">
<path d="M986.7,532.3 A4.2,4.2 0 1 0 986.7,537.7"/>
<circle cx="996.2" cy="535" r="4.3"/>
<path d="M1006.2,540.8 V529.2 M1006.2,534.7 A3.72,3.72 0 0 1 1013.65,534.7 V540.8 M1013.65,534.7 A3.65,3.65 0 0 1 1020.95,534.7 V540.8"/>
</g>
</svg>
<svg width="182" height="92" viewBox="815 291 182 92" style="position:absolute;left:815px;top:291px;background:#fff;font-family:'Liberation Sans',sans-serif">
<rect x="815" y="291" width="182" height="92" fill="#fff"/>
<g font-size="15.7" fill="#0808ff" text-anchor="middle">
<text x="905.7" y="304.7" textLength="158.8" lengthAdjust="spacingAndGlyphs">A bullish pinbar formed</text>
<text x="905.7" y="322.7" textLength="152.4" lengthAdjust="spacingAndGlyphs">above a support zone,</text>
<text x="905.7" y="340.7" textLength="158.2" lengthAdjust="spacingAndGlyphs">made up of the monthly</text>
<text x="905.7" y="358.7" textLength="175.1" lengthAdjust="spacingAndGlyphs">and weekly S1 pivots and</text>
<text x="905.7" y="376.7" textLength="95.2" lengthAdjust="spacingAndGlyphs">100-day eMA.</text>
</g></svg>
</body></html>
